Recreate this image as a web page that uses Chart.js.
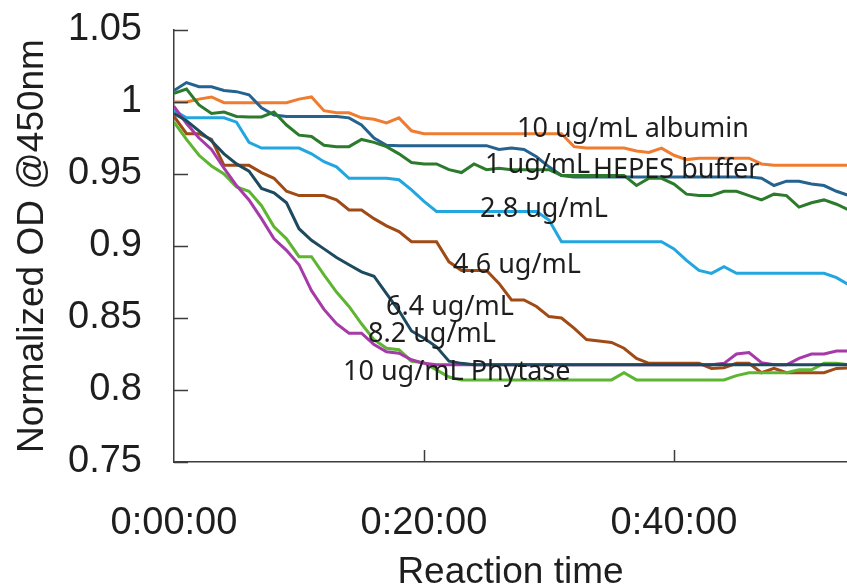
<!DOCTYPE html>
<html>
<head>
<meta charset="utf-8">
<script src="https://cdn.jsdelivr.net/npm/chart.js@4.4.1/dist/chart.umd.min.js"></script>
<style>
    html, body { margin: 0; padding: 0; background: #fff; }
    .chart-wrap { width: 847px; height: 587px; }
</style>
</head>
<body>
<div class="chart-wrap"><canvas id="Canvas" width="847" height="587"></canvas></div>
<script>
// reaction time in minutes
const minutes = [0, 1, 2, 3, 4, 5, 6, 7, 8, 9, 10, 11, 12, 13, 14, 15, 16, 17, 18, 19, 20,
    21, 22, 23, 24, 25, 26, 27, 28, 29, 30, 31, 32, 33, 34, 35, 36, 37, 38, 39, 40,
    41, 42, 43, 44, 45, 46, 47, 48, 49, 50, 51, 52, 53, 54];

const albumin10 = [1.000, 1.000, 1.002, 1.0035, 0.9995, 0.9995, 0.9995, 0.9995, 0.9995, 0.9995,
    1.002, 1.0035, 0.994, 0.9925, 0.9925, 0.989, 0.988, 0.9855, 0.989, 0.980,
    0.978, 0.978, 0.978, 0.978, 0.978, 0.978, 0.978, 0.978, 0.978, 0.978, 0.978, 0.978,
    0.969, 0.968, 0.968, 0.968, 0.968, 0.966, 0.965, 0.968, 0.963, 0.960,
    0.961, 0.961, 0.961, 0.961, 0.961, 0.957, 0.956, 0.956, 0.956, 0.956, 0.956, 0.956, 0.956];

const hepes = [1.008, 1.0135, 1.0106, 1.0106, 1.008, 1.0072, 1.005, 0.996, 0.991, 0.990,
    0.990, 0.990, 0.990, 0.990, 0.989, 0.984, 0.975, 0.970,
    0.9697, 0.9697, 0.9697, 0.9697, 0.9697, 0.9697, 0.9697, 0.9697,
    0.967, 0.968, 0.967, 0.962, 0.955, 0.949,
    0.948, 0.948, 0.948, 0.948, 0.948, 0.948, 0.948, 0.948, 0.948, 0.948, 0.948, 0.948, 0.948, 0.948, 0.948,
    0.947, 0.942, 0.945, 0.945, 0.943, 0.942, 0.938, 0.935];

const phy1 = [1.006, 1.009, 0.998, 0.992, 0.993, 0.990, 0.9896, 0.9896, 0.993, 0.984,
    0.977, 0.976, 0.970, 0.969, 0.969, 0.974, 0.972, 0.969, 0.964, 0.958,
    0.957, 0.957, 0.953, 0.951, 0.957, 0.953, 0.954,
    0.953, 0.953, 0.953, 0.953,
    0.949, 0.949, 0.949, 0.949, 0.949, 0.949,
    0.942, 0.947, 0.947, 0.943, 0.936, 0.935, 0.935, 0.938, 0.938, 0.935, 0.932, 0.936,
    0.935, 0.927, 0.930, 0.932, 0.929, 0.925];

const phy28 = [0.994, 0.989, 0.989, 0.989, 0.989, 0.986, 0.972, 0.968, 0.968, 0.968,
    0.968, 0.964, 0.9585, 0.955, 0.947, 0.947, 0.947, 0.947, 0.946, 0.939, 0.931, 0.924,
    0.924, 0.924, 0.924, 0.924, 0.924, 0.924, 0.924, 0.924,
    0.918, 0.903,
    0.903, 0.903, 0.903, 0.903, 0.903, 0.903, 0.903, 0.903,
    0.898, 0.890, 0.883, 0.881, 0.8856, 0.881,
    0.881, 0.881, 0.881, 0.881, 0.881, 0.881, 0.881,
    0.878, 0.873];

const phy46 = [0.990, 0.978, 0.978, 0.974, 0.956, 0.956, 0.956, 0.951, 0.947, 0.938,
    0.935, 0.935, 0.935, 0.932, 0.925, 0.925, 0.919, 0.914, 0.910, 0.903,
    0.903, 0.903, 0.889, 0.883, 0.883, 0.883, 0.874, 0.8625, 0.8625, 0.858,
    0.851, 0.850, 0.843, 0.835, 0.834, 0.833, 0.829, 0.822,
    0.8185, 0.8185, 0.8185, 0.8185, 0.8185,
    0.815, 0.8155, 0.8185, 0.8185, 0.812, 0.815, 0.812, 0.812, 0.812, 0.812, 0.815, 0.8153];

const phy64 = [0.992, 0.987, 0.980, 0.973, 0.964, 0.957, 0.952, 0.940, 0.937, 0.930,
    0.912, 0.904, 0.898, 0.892, 0.887, 0.882, 0.879, 0.867, 0.855, 0.841,
    0.836, 0.830, 0.820, 0.8185,
    0.8175, 0.8175, 0.8175, 0.8175, 0.8175, 0.8175, 0.8175, 0.8175, 0.8175, 0.8175,
    0.8175, 0.8175, 0.8175, 0.8175, 0.8175, 0.8175, 0.8175, 0.8175, 0.8175, 0.8175,
    0.8175, 0.8175, 0.8175, 0.8175, 0.8175, 0.8175, 0.8175, 0.8175, 0.8175, 0.8175, 0.8175];

const phy82 = [0.986, 0.974, 0.963, 0.9556, 0.950, 0.941, 0.938, 0.928, 0.9134, 0.905,
    0.8926, 0.8926, 0.880, 0.868, 0.858, 0.846, 0.835, 0.829, 0.828, 0.820,
    0.819, 0.814, 0.809,
    0.807, 0.807, 0.807, 0.807, 0.807, 0.807, 0.807, 0.807, 0.807, 0.807, 0.807, 0.807, 0.807,
    0.812,
    0.807, 0.807, 0.807, 0.807, 0.807, 0.807, 0.807, 0.807,
    0.810, 0.812, 0.812, 0.812, 0.812, 0.814, 0.814, 0.8185, 0.8185, 0.8175];

const phy10 = [0.997, 0.985, 0.975, 0.967, 0.954, 0.942, 0.932, 0.919, 0.905, 0.897,
    0.887, 0.869, 0.856, 0.846, 0.8394, 0.8394, 0.8315, 0.8266, 0.8255, 0.821, 0.8185,
    0.8175, 0.8175, 0.8175, 0.8175, 0.8175, 0.8175, 0.8175, 0.8175, 0.8175, 0.8175, 0.8175,
    0.8175, 0.8175, 0.8175, 0.8175, 0.8175, 0.8175, 0.8175, 0.8175, 0.8175, 0.8175, 0.8175,
    0.8175,
    0.8185, 0.825, 0.826, 0.819, 0.8175, 0.8175, 0.822, 0.825, 0.825, 0.827, 0.827];

const xTicks = [0, 20, 40];
const xTickLabels = ['0:00:00', '0:20:00', '0:40:00'];
const yTicks = [0.75, 0.8, 0.85, 0.9, 0.95, 1, 1.05];
const yTickLabels = ['0.75', '0.8', '0.85', '0.9', '0.95', '1', '1.05'];

// text written next to the curves, anchored in data units (minutes, OD)
const noteTexts = ['10 ug/mL albumin', '1 ug/mL', 'HEPES buffer', '2.8 ug/mL',
    '4.6 ug/mL', '6.4 ug/mL', '8.2 ug/mL', '10 ug/mL Phytase'];
const noteMinutes = [27.44, 24.88, 33.52, 24.48, 22.32, 16.96, 15.52, 13.52];
const noteValues = [0.9757, 0.9507, 0.9472, 0.9201, 0.8813, 0.8521, 0.8333, 0.8069];

const series = [
    { label: '6.4 ug/mL', data: phy64, color: '#1d4a5e' },
    { label: '10 ug/mL Phytase', data: phy10, color: '#a63aa8' },
    { label: '8.2 ug/mL', data: phy82, color: '#5db532' },
    { label: '4.6 ug/mL', data: phy46, color: '#a04a16' },
    { label: '2.8 ug/mL', data: phy28, color: '#22a6e0' },
    { label: '1 ug/mL', data: phy1, color: '#2c7a2c' },
    { label: 'HEPES buffer', data: hepes, color: '#24628f' },
    { label: '10 ug/mL albumin', data: albumin10, color: '#f07c30' }
];

const axisColor = '#3c3c3c';

const insideTicks = {
    id: 'insideTicks',
    afterDraw(chart) {
        const { ctx, chartArea, scales: { x, y } } = chart;
        ctx.save();
        ctx.strokeStyle = axisColor;
        ctx.lineWidth = 1.5;
        ctx.beginPath();
        y.ticks.forEach(t => {
            const py = Math.round(y.getPixelForValue(t.value)) + 0.5;
            ctx.moveTo(chartArea.left, py);
            ctx.lineTo(chartArea.left + 14, py);
        });
        x.ticks.forEach(t => {
            if (t.value === 0) return;
            const px = Math.round(x.getPixelForValue(t.value)) + 0.5;
            ctx.moveTo(px, chartArea.bottom);
            ctx.lineTo(px, chartArea.bottom - 12);
        });
        ctx.stroke();
        ctx.restore();
    }
};

const curveNotes = {
    id: 'curveNotes',
    afterDatasetsDraw(chart) {
        const { ctx, scales: { x, y } } = chart;
        ctx.save();
        ctx.font = '27px "Noto Sans"';
        ctx.fillStyle = '#1e1e1e';
        ctx.textAlign = 'left';
        ctx.textBaseline = 'alphabetic';
        noteTexts.forEach((txt, i) => {
            ctx.fillText(txt, x.getPixelForValue(noteMinutes[i]), y.getPixelForValue(noteValues[i]));
        });
        ctx.restore();
    }
};

const noEdgePadding = scale => {
    scale.paddingTop = 0;
    scale.paddingBottom = 0;
    scale.paddingLeft = 0;
    scale.paddingRight = 0;
};

const ctx = document.getElementById('Canvas').getContext('2d');

new Chart(ctx, {
    type: 'line',
    data: {
        datasets: series.map(s => ({
            label: s.label,
            data: minutes.map((m, i) => ({ x: m, y: s.data[i] })),
            borderColor: s.color,
            backgroundColor: 'transparent',
            borderWidth: 3,
            pointRadius: 0,
            tension: 0
        }))
    },
    options: {
        responsive: false,
        animation: false,
        layout: { padding: { top: 30, right: 0, left: 0, bottom: 0 } },
        plugins: {
            legend: { display: false },
            tooltip: { enabled: false }
        },
        scales: {
            x: {
                type: 'linear',
                min: 0,
                max: 53.84,
                grid: { display: false },
                border: { display: true, color: axisColor, width: 1.5 },
                afterBuildTicks: scale => { scale.ticks = xTicks.map(v => ({ value: v })); },
                afterFit: scale => { scale.height = 125; noEdgePadding(scale); },
                ticks: {
                    padding: 31,
                    color: '#1e1e1e',
                    font: { family: 'Liberation Sans', size: 38 },
                    callback: v => xTickLabels[xTicks.indexOf(v)]
                },
                title: {
                    display: true,
                    text: 'Reaction time',
                    color: '#1e1e1e',
                    font: { family: 'Liberation Sans', size: 37 },
                    padding: { top: 0, bottom: -8 }
                }
            },
            y: {
                min: 0.75,
                max: 1.05,
                grid: { display: false },
                border: { display: true, color: axisColor, width: 1.5 },
                afterBuildTicks: scale => { scale.ticks = yTicks.map(v => ({ value: v })); },
                afterFit: scale => { scale.width = 174; noEdgePadding(scale); },
                ticks: {
                    padding: 24,
                    color: '#1e1e1e',
                    font: { family: 'Liberation Sans', size: 38 },
                    callback: v => yTickLabels[yTicks.indexOf(v)]
                },
                title: {
                    display: true,
                    text: 'Normalized OD @450nm',
                    color: '#1e1e1e',
                    font: { family: 'Liberation Sans', size: 37 },
                    padding: { top: 11, bottom: 0 }
                }
            }
        }
    },
    plugins: [insideTicks, curveNotes]
});
</script>
</body>
</html>
